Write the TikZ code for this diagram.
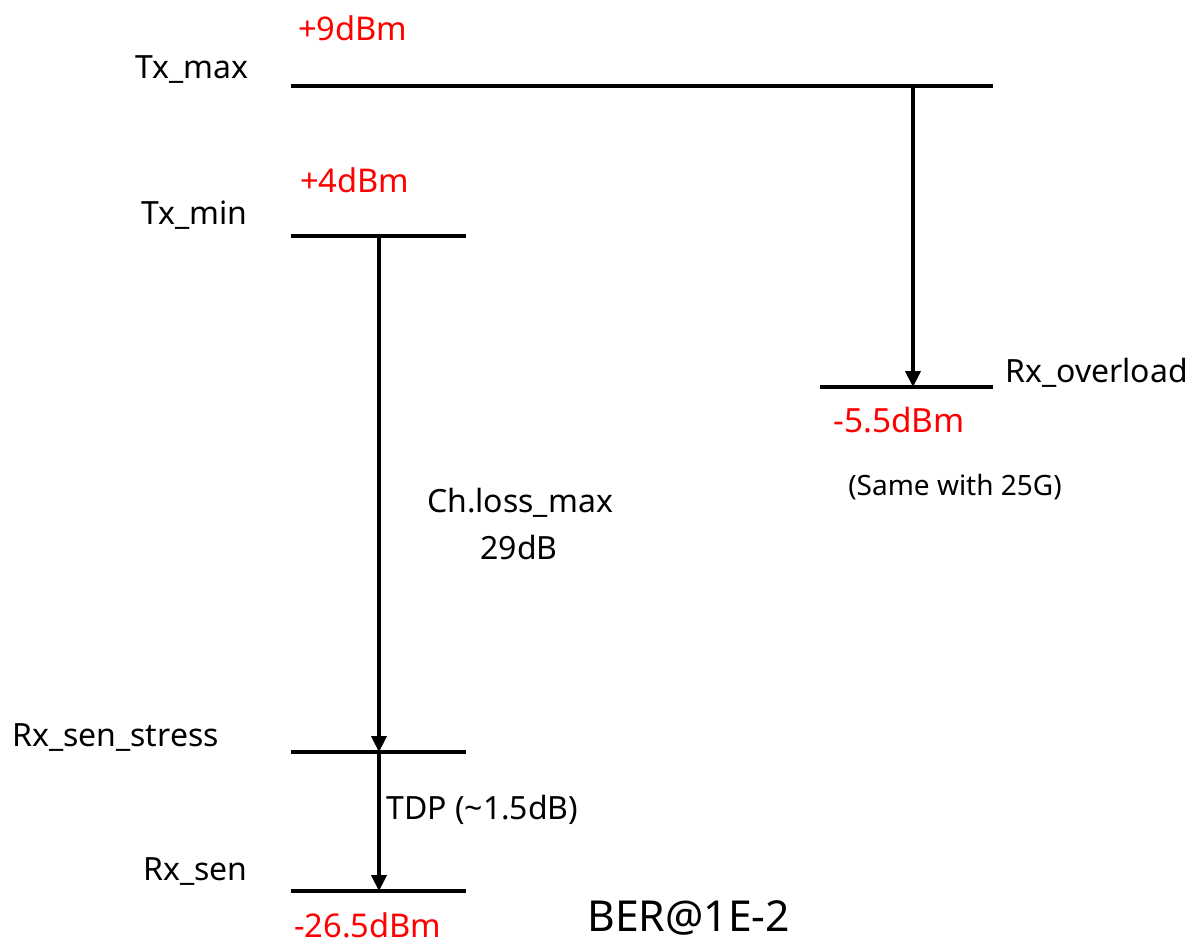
\documentclass[tikz,border=0pt]{standalone}
\usepackage{fontspec}
\setmainfont{Noto Sans}
\usetikzlibrary{arrows.meta}
\begin{document}
\begin{tikzpicture}[x=0.75pt,y=-0.75pt,
  lvl/.style={line width=2.3pt},
  arr/.style={line width=2.3pt,-{Triangle[width=11.5pt,length=12pt]}},
  lbl/.style={inner sep=0pt,font=\fontsize{24}{28}\selectfont},
  val/.style={lbl,text=red,font=\fontsize{24.5}{28}\selectfont},
  bigval/.style={inner sep=0pt,text=red,font=\fontsize{25}{30}\selectfont},
  note/.style={inner sep=0pt,font=\fontsize{21}{25}\selectfont},
  big/.style={inner sep=0pt,font=\fontsize{32}{36}\selectfont}]
\useasboundingbox (0,0) rectangle (1192,946);
% levels
\coordinate (txmaxL) at (291,86);  \coordinate (txmaxR) at (993,86);
\coordinate (txminL) at (291,236); \coordinate (txminR) at (466,236);
\coordinate (ovL) at (820,387);    \coordinate (ovR) at (993,387);
\coordinate (stL) at (291,752);    \coordinate (stR) at (466,752);
\coordinate (snL) at (291,891);    \coordinate (snR) at (466,891);
\draw[lvl] (txmaxL) -- (txmaxR);
\draw[lvl] (txminL) -- (txminR);
\draw[lvl] (ovL) -- (ovR);
\draw[lvl] (stL) -- (stR);
\draw[lvl] (snL) -- (snR);
% arrows
\coordinate (a1s) at (913,86);  \coordinate (a1e) at (913,387);
\coordinate (a2s) at (379,236); \coordinate (a2e) at (379,752);
\coordinate (a3s) at (379,752); \coordinate (a3e) at (379,891);
\draw[arr] (a1s) -- (a1e);
\draw[arr] (a2s) -- (a2e);
\draw[arr] (a3s) -- (a3e);
% labels
\node[val,anchor=west] (p9) at (298,28) {+9dBm};
\node[lbl,anchor=east] (txmax) at (249,70) {Tx\_max};
\node[val,anchor=west] (p4) at (300,180) {+4dBm};
\node[lbl,anchor=east] (txmin) at (248,215) {Tx\_min};
\node[lbl,anchor=west] (rxov) at (1005,373) {Rx\_overload};
\node[bigval,anchor=west] (m55) at (833,420) {-5.5dBm};
\node[note,anchor=west] (same) at (848,487) {(Same with 25G)};
\node[lbl] (chl) at (520,503) {Ch.loss\_max};
\node[lbl] (db29) at (519,547) {29dB};
\node[lbl,anchor=west] (rxst) at (12,738) {Rx\_sen\_stress};
\node[lbl,anchor=west] (tdp) at (386,810) {TDP (\textasciitilde 1.5dB)};
\node[lbl,anchor=east] (rxsen) at (248,872) {Rx\_sen};
\node[val,anchor=west] (m265) at (294,925) {-26.5dBm};
\node[big,anchor=west] (ber) at (587,918) {BER@1E-2};
\end{tikzpicture}
\end{document}
